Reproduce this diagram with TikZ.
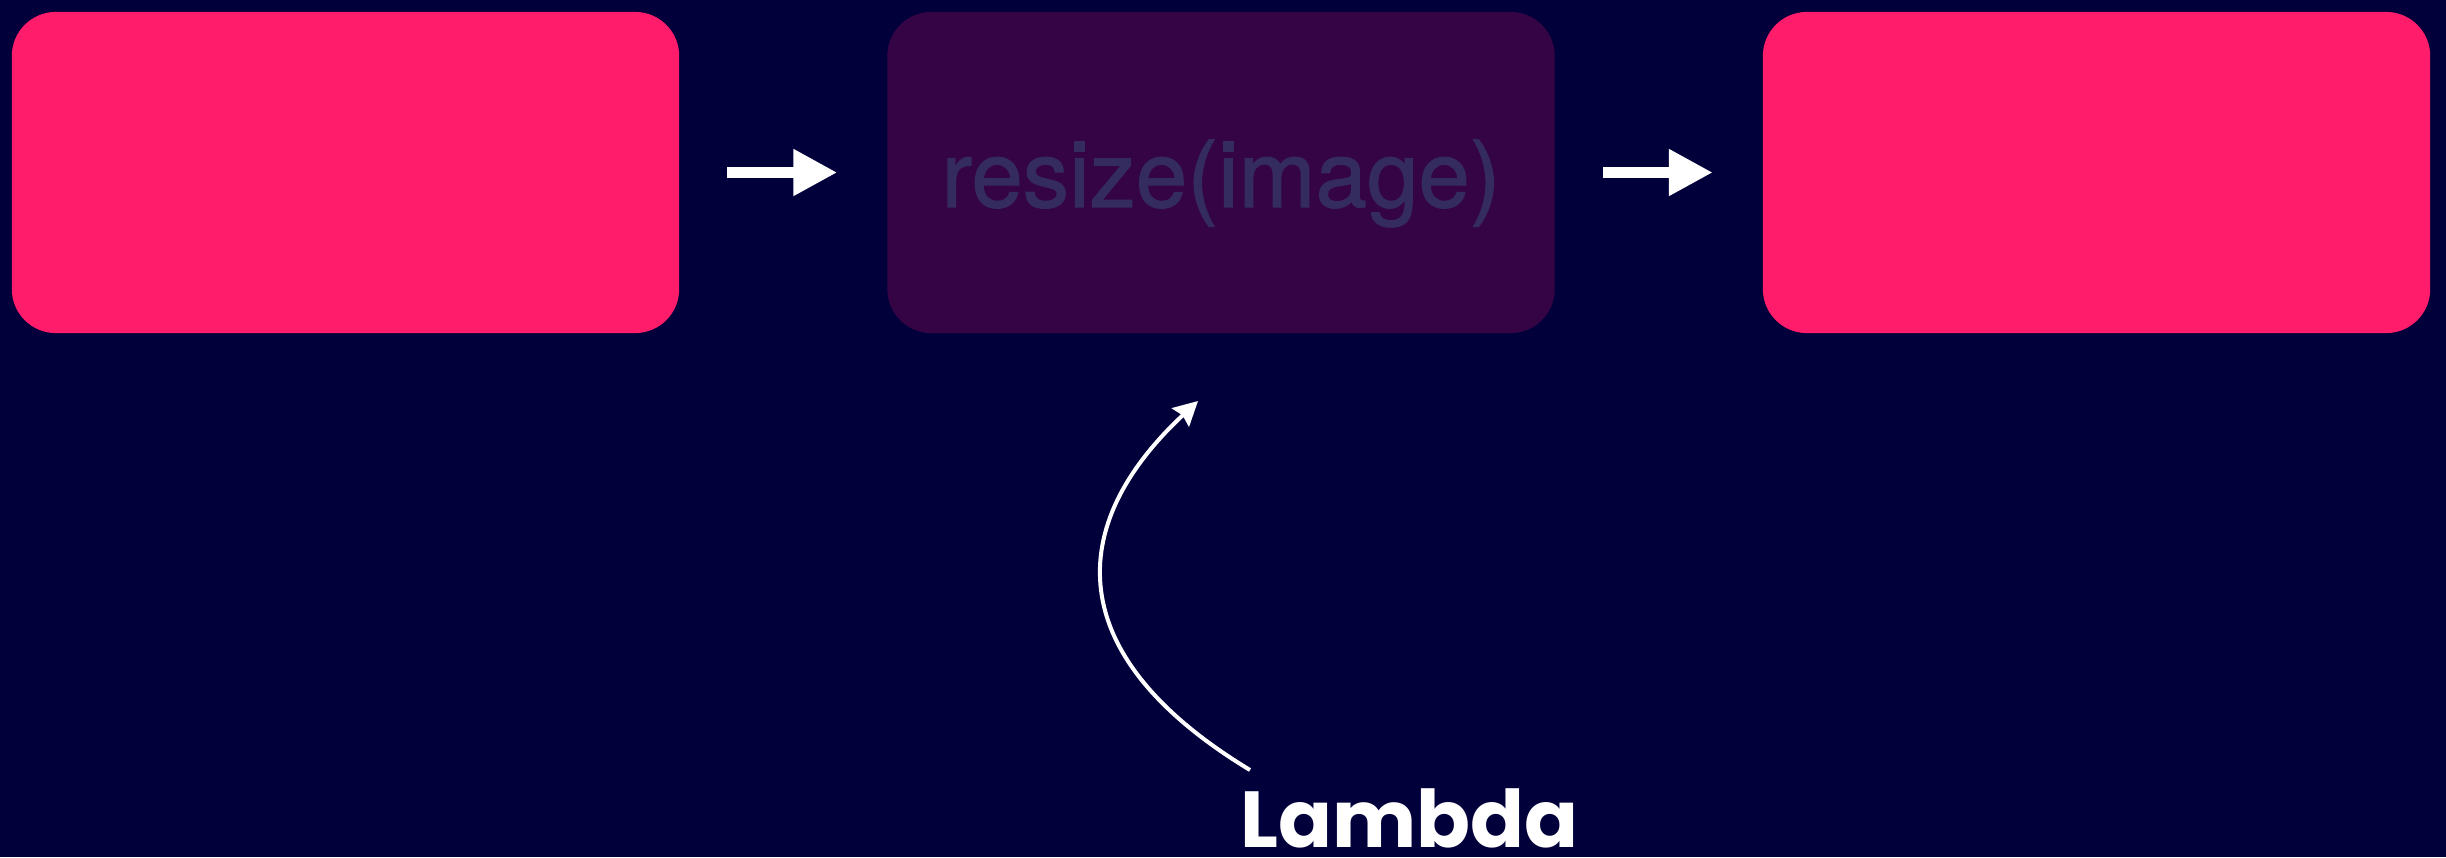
\documentclass[tikz,border=0pt]{standalone}
\usepackage{fontspec}
\usepackage{tikz}
\usetikzlibrary{positioning,arrows.meta}
\newfontfamily\boxfont{TeX Gyre Heros}[FakeBold=1.2]
\newfontfamily\lambdafont{Poppins}
\definecolor{bg}{HTML}{02003A}
\definecolor{pinkbox}{HTML}{FF1C6B}
\definecolor{dimbox}{HTML}{350444}
\definecolor{dimtext}{HTML}{342B5E}

\begin{document}
\begin{tikzpicture}[x=0.01cm, y=-0.01cm,
	box_node/.style={rectangle, rounded corners=0.44cm, minimum width=6.67cm, minimum height=3.21cm, inner sep=0pt, outer sep=0pt},
	flow_arrow/.style={draw=white, line width=0.11cm, -{Triangle[length=0.44cm,width=0.44cm]}, shorten <=0.48cm, shorten >=0.5cm}]
				\fill[bg] (0,0) rectangle (2446,857);
				\useasboundingbox (0,0) rectangle (2446,857);
				\node[box_node, fill=pinkbox](1) at (345.5,172.5){};
				\node[box_node, fill=dimbox, right=2.08cm of 1, text=dimtext, font=\boxfont\fontsize{26.3}{30}\selectfont, text height=0.69cm, text depth=0pt](2){resize(image)};
				\node[box_node, fill=pinkbox, right=2.08cm of 2](3){};
				\node[anchor=base west, text=white, inner sep=0pt, font=\lambdafont\bfseries\fontsize{22.6}{26}\selectfont](4) at (1240,847){Lambda};
				\coordinate (5) at (1250,770);
				\coordinate (6) at (1198,401);
				\draw[flow_arrow](1) -- (2);
				\draw[flow_arrow](2) -- (3);
				\draw[white, line width=0.04cm, -{Stealth[length=0.24cm,width=0.25cm,inset=0.03cm]}](5) .. controls (1060,655) and (1065,525) .. (6);
\end{tikzpicture}
\end{document}
